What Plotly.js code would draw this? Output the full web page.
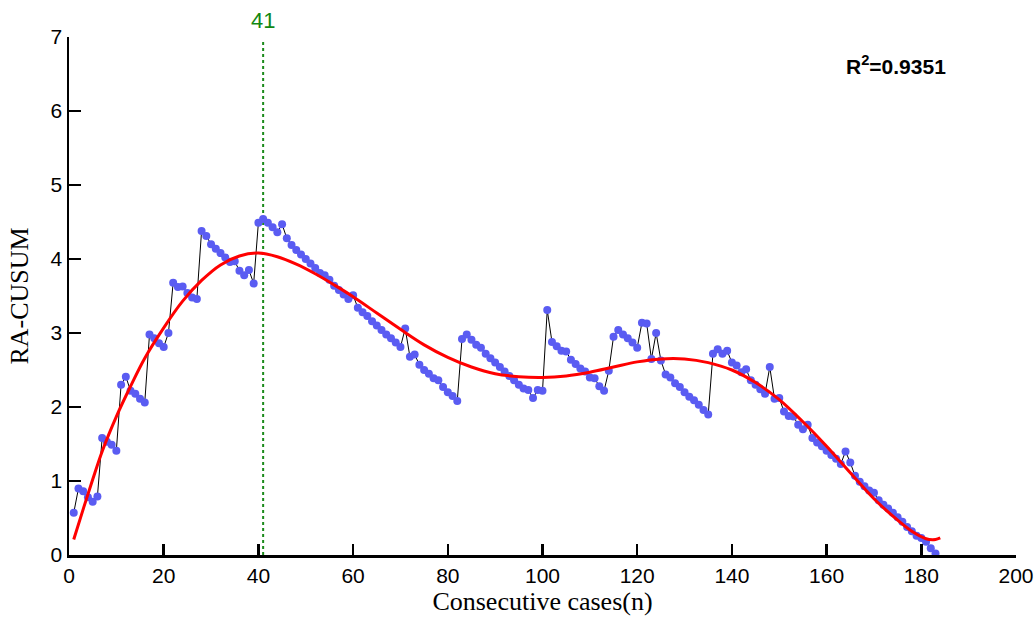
<!DOCTYPE html>
<html>
<head>
<meta charset="utf-8">
<script src="https://cdn.plot.ly/plotly-3.0.1.min.js"></script>
<style>html,body{margin:0;padding:0;background:#fff;}#chart{width:1035px;height:619px;}</style>
</head>
<body>
<div id="chart"></div>
<script>
// RA-CUSUM values for consecutive cases 1..183
const cusumValues = [
  0.57,0.90,0.86,0.78,0.72,0.79,1.58,1.53,1.49,1.41,
  2.30,2.41,2.22,2.18,2.11,2.06,2.98,2.93,2.86,2.81,
  3.00,3.68,3.62,3.63,3.54,3.48,3.46,4.38,4.31,4.20,
  4.14,4.08,4.02,3.96,3.97,3.84,3.78,3.85,3.67,4.49,
  4.54,4.49,4.43,4.36,4.47,4.28,4.19,4.12,4.06,4.00,
  3.94,3.88,3.81,3.78,3.72,3.64,3.58,3.52,3.46,3.51,
  3.34,3.28,3.23,3.16,3.10,3.04,2.98,2.93,2.87,2.81,
  3.06,2.68,2.71,2.57,2.50,2.45,2.39,2.36,2.27,2.20,
  2.15,2.08,2.92,2.98,2.91,2.84,2.80,2.72,2.66,2.60,
  2.54,2.48,2.42,2.36,2.30,2.25,2.23,2.12,2.23,2.22,
  3.31,2.88,2.82,2.76,2.75,2.64,2.58,2.52,2.48,2.40,
  2.39,2.28,2.22,2.49,2.95,3.04,2.98,2.93,2.87,2.80,
  3.14,3.13,2.65,3.00,2.63,2.44,2.40,2.32,2.27,2.20,
  2.14,2.09,2.03,1.96,1.90,2.72,2.78,2.72,2.76,2.60,
  2.56,2.47,2.51,2.36,2.30,2.24,2.18,2.54,2.11,2.12,
  1.94,1.88,1.87,1.76,1.70,1.76,1.58,1.52,1.47,1.41,
  1.35,1.30,1.23,1.40,1.25,1.07,0.99,0.93,0.87,0.84,
  0.74,0.68,0.63,0.57,0.51,0.45,0.38,0.32,0.26,0.23,
  0.18,0.09,0.02
];
const caseNumbers = cusumValues.map((_, i) => i + 1);

// Fitted curve
const fitX = [1,3,5,7,10,13,16,20,24,28,32,36,40,44,48,52,56,60,65,70,75,80,85,90,95,100,105,110,115,120,125,130,135,140,145,150,155,160,165,170,175,178,181,183,184];
const fitY = [0.21,0.62,1.02,1.40,1.87,2.28,2.66,3.07,3.43,3.71,3.92,4.04,4.08,4.03,3.93,3.80,3.65,3.49,3.27,3.05,2.84,2.67,2.54,2.45,2.41,2.40,2.42,2.47,2.54,2.61,2.65,2.65,2.60,2.50,2.33,2.10,1.80,1.47,1.11,0.76,0.47,0.32,0.22,0.21,0.23];

const cutX = [41, 41];
const cutY = [0, 6.95];
const cutLabel = '41';
const r2Label = 'R<sup>2</sup>=0.9351';
const xTicks = [0,20,40,60,80,100,120,140,160,180,200];
const yTicks = [0,1,2,3,4,5,6,7];

const traces = [
  {x: cutX, y: cutY, mode: 'lines', line: {color: '#1a8a1a', width: 2, dash: '3px,3px'}, hoverinfo: 'skip', cliponaxis: false},
  {x: caseNumbers, y: cusumValues, mode: 'lines+markers', line: {color: '#000', width: 1},
   marker: {color: '#5a5cf2', size: 8}, cliponaxis: false},
  {x: fitX, y: fitY, mode: 'lines', line: {color: '#ff0000', width: 3, shape: 'spline', smoothing: 1}, cliponaxis: false}
];

const layout = {
  width: 1035, height: 619,
  margin: {l: 69, r: 19, t: 37, b: 64},
  paper_bgcolor: '#fff', plot_bgcolor: '#fff',
  showlegend: false,
  xaxis: {
    range: [0, 200], tickvals: xTicks, ticktext: xTicks.map(String),
    ticks: 'inside', ticklen: 11, tickwidth: 2.5, tickcolor: '#000',
    showline: true, linecolor: '#000', linewidth: 2.5, showgrid: false, zeroline: false,
    tickfont: {family: 'Liberation Sans, Arial, sans-serif', size: 21, color: '#000'},
    title: {text: 'Consecutive cases(n)', font: {family: 'Liberation Serif, Times New Roman, serif', size: 26, color: '#000'}, standoff: 3}
  },
  yaxis: {
    range: [0, 7], tickvals: yTicks, ticktext: yTicks.map(String),
    ticks: 'inside', ticklen: 12, tickwidth: 2.5, tickcolor: '#000',
    showline: true, linecolor: '#000', linewidth: 2.5, showgrid: false, zeroline: false,
    tickfont: {family: 'Liberation Sans, Arial, sans-serif', size: 21, color: '#000'},
    title: {text: 'RA-CUSUM', font: {family: 'Liberation Serif, Times New Roman, serif', size: 26, color: '#000'}, standoff: 15}
  },
  annotations: [
    {x: 41, y: 7, xref: 'x', yref: 'y', yshift: 2, text: cutLabel, showarrow: false, yanchor: 'bottom',
     font: {family: 'Liberation Sans, Arial, sans-serif', size: 22, color: '#128812'}},
    {x: 0.873, y: 0.946, xref: 'paper', yref: 'paper', text: '<b>' + r2Label + '</b>', showarrow: false,
     xanchor: 'center', yanchor: 'middle',
     font: {family: 'Liberation Sans, Arial, sans-serif', size: 21, color: '#000'}}
  ]
};

Plotly.newPlot('chart', traces, layout, {displayModeBar: false, staticPlot: true});
</script>
</body>
</html>
